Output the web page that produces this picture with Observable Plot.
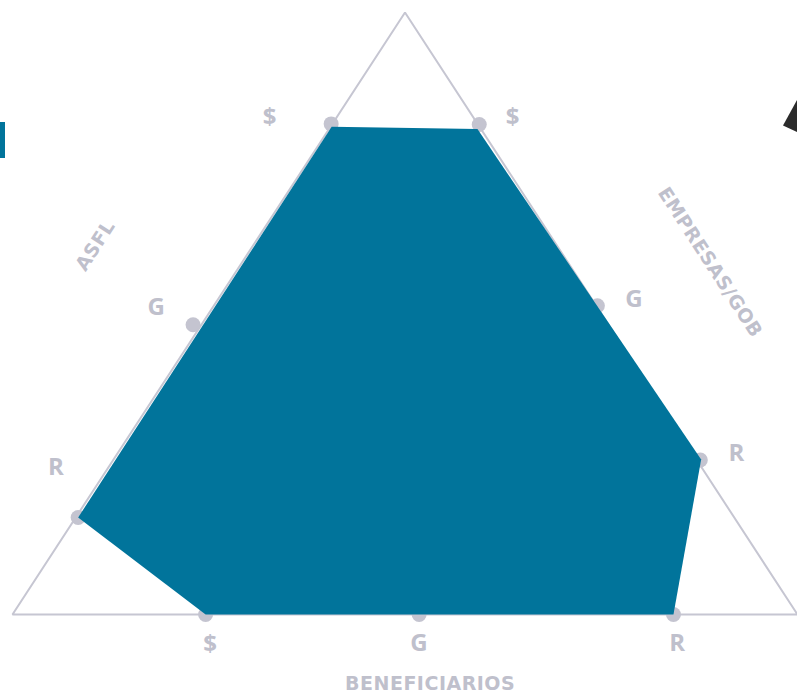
<!DOCTYPE html>
<html><head><meta charset="utf-8">
<script src="https://cdn.jsdelivr.net/npm/d3@7"></script>
<script src="https://cdn.jsdelivr.net/npm/@observablehq/plot@0.6"></script>
<style>
body{margin:0;background:#fff;overflow:hidden}
#wrap{position:relative;width:797px;height:693px}
.deco-bar{position:absolute;left:0;top:122px;width:5px;height:36px;background:#01749b}
.deco-tri{position:absolute;left:783px;top:100px;width:14px;height:32px;background:#2b2b2b;clip-path:polygon(0 80%,100% 0,100% 100%)}
</style></head><body><div id="wrap"><div class="deco-bar"></div><div class="deco-tri"></div></div>
<script>
// ---- data ----
const axes = ["ASFL", "EMPRESAS/GOB", "BENEFICIARIOS"];
const levels = ["$", "G", "R"];
// position of each level along its edge (ASFL: bottom-left -> top, EMPRESAS/GOB: top -> bottom-right, BENEFICIARIOS: left -> right)
const asflPos = [0.814, 0.475, 0.163];
const empresasPos = [0.187, 0.488, 0.746];
const beneficiariosPos = [0.246, 0.518, 0.842];
// small perpendicular offsets of the marker dots (px, outward)
const asflDotOff = [1, 7, -2];
const empresasDotOff = [1, 1, 3];
const beneficiariosDotOff = [0, 0, 0];
// level label placement (along edge, outward px)
const asflLabelPos = [0.775, 0.467, 0.205];
const asflLabelOff = [56, 47, 44];
const empresasLabelPos = [0.2045, 0.509, 0.766];
const empresasLabelOff = [33, 35, 37];
const beneficiariosLabelPos = [0.252, 0.518, 0.847];
const beneficiariosLabelOff = [30, 29, 29];
// axis titles placement
const titlePos = [0.493, 0.523, 0.532];
const titleOff = [132, 119, 69];
// profile polygon: level reached on each axis
const profileAxis = ["ASFL", "EMPRESAS/GOB", "EMPRESAS/GOB", "BENEFICIARIOS", "BENEFICIARIOS", "ASFL"];
const profileLevel = ["$", "$", "R", "R", "$", "R"];
const profileT = [0.811, 0.191, 0.746, 0.842, 0.246, 0.163];
const profileOff = [-1, -3, 4, 0, 0, -2];

// ---- geometry ----
const X0 = 12, X1 = 797, Y0 = 614, Y1 = 12;
const sx = d3.scaleLinear([0, 100], [X0, X1]);
const sy = d3.scaleLinear([0, 100], [Y0, Y1]);
const vertices = {L: [0, 0], T: [50, 100], R: [100, 0]};
const edges = {"ASFL": ["L", "T"], "EMPRESAS/GOB": ["T", "R"], "BENEFICIARIOS": ["L", "R"]};
const centroid = [50, 33.3];
function place(axis, t, off) {
  const [a, b] = edges[axis];
  const p0 = [sx(vertices[a][0]), sy(vertices[a][1])], p1 = [sx(vertices[b][0]), sy(vertices[b][1])];
  const dx = p1[0] - p0[0], dy = p1[1] - p0[1], len = Math.hypot(dx, dy);
  let nx = dy / len, ny = -dx / len;
  const px = p0[0] + t * dx, py = p0[1] + t * dy;
  const c = [sx(centroid[0]), sy(centroid[1])];
  if ((px - c[0]) * nx + (py - c[1]) * ny < 0) { nx = -nx; ny = -ny; }
  return {x: sx.invert(px + off * nx), y: sy.invert(py + off * ny)};
}
const pos = {"ASFL": asflPos, "EMPRESAS/GOB": empresasPos, "BENEFICIARIOS": beneficiariosPos};
const dotOff = {"ASFL": asflDotOff, "EMPRESAS/GOB": empresasDotOff, "BENEFICIARIOS": beneficiariosDotOff};
const lblPos = {"ASFL": asflLabelPos, "EMPRESAS/GOB": empresasLabelPos, "BENEFICIARIOS": beneficiariosLabelPos};
const lblOff = {"ASFL": asflLabelOff, "EMPRESAS/GOB": empresasLabelOff, "BENEFICIARIOS": beneficiariosLabelOff};

const triangle = ["L", "T", "R"].map(k => ({x: vertices[k][0], y: vertices[k][1]}));
const dots = axes.flatMap(a => levels.map((l, i) => ({axis: a, level: l, ...place(a, pos[a][i], dotOff[a][i])})));
const labels = axes.flatMap(a => levels.map((l, i) => ({axis: a, text: l, ...place(a, lblPos[a][i], lblOff[a][i])})));
const titles = axes.map((a, i) => ({text: a, ...place(a, titlePos[i], titleOff[i])}));
const profile = profileAxis.map((a, i) => ({axis: a, level: profileLevel[i], ...place(a, profileT[i], profileOff[i])}));

const grey = "#bfc0cc";
const titleFont = "'DejaVu Sans', sans-serif";
const chart = Plot.plot({
  width: 797, height: 693,
  marginLeft: X0, marginRight: 797 - X1, marginTop: Y1, marginBottom: 693 - Y0,
  x: {domain: [0, 100], axis: null},
  y: {domain: [0, 100], axis: null},
  style: {fontFamily: "'Open Sans', sans-serif", background: "transparent", overflow: "visible", letterSpacing: "0.5px"},
  marks: [
    Plot.line(triangle, {x: "x", y: "y", stroke: "#c6c6d2", strokeWidth: 2, strokeLinejoin: "miter", curve: "linear-closed"}),
    Plot.dot(dots, {x: "x", y: "y", r: 7.5, fill: "#c4c4d0", stroke: "none"}),
    Plot.line(profile, {x: "x", y: "y", fill: "#01749b", stroke: "none", curve: "linear-closed"}),
    Plot.text(labels, {x: "x", y: "y", text: "text", fontSize: 24, fontWeight: 700, fill: grey}),
    Plot.text(titles.filter(d => d.text === "ASFL"), {x: "x", y: "y", text: "text", fontSize: 19, fontWeight: 700, fontFamily: titleFont, fill: grey, rotate: -57}),
    Plot.text(titles.filter(d => d.text === "EMPRESAS/GOB"), {x: "x", y: "y", text: "text", fontSize: 19, fontWeight: 700, fontFamily: titleFont, fill: grey, rotate: 57}),
    Plot.text(titles.filter(d => d.text === "BENEFICIARIOS"), {x: "x", y: "y", text: "text", fontSize: 19, fontWeight: 700, fontFamily: titleFont, fill: grey})
  ]
});
chart.style.position = "absolute";
chart.style.left = "0"; chart.style.top = "0";
document.getElementById("wrap").prepend(chart);
</script>
</body></html>
